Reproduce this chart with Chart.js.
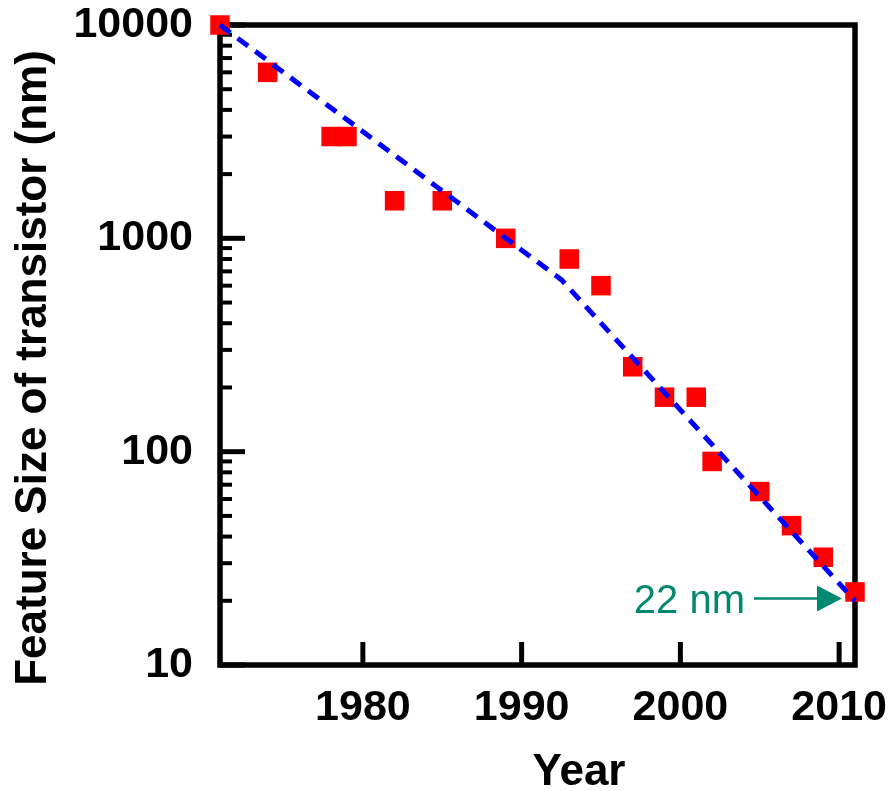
<!DOCTYPE html>
<html>
<head>
<meta charset="utf-8">
<script src="https://cdn.jsdelivr.net/npm/chart.js@4.4.0/dist/chart.umd.min.js"></script>
<style>
html, body { margin: 0; padding: 0; background: #fff; }
#wrap { width: 890px; height: 791px; position: relative; }
</style>
</head>
<body>
<div id="wrap"><canvas id="chart"></canvas></div>
<script>
// measured points
const years = [1971, 1974, 1978, 1979, 1982, 1985, 1989, 1993, 1995, 1997, 1999, 2001, 2002, 2005, 2007, 2009, 2011];
const featureSize = [10000, 6000, 3000, 3000, 1500, 1500, 1000, 800, 600, 250, 180, 180, 90, 65, 45, 32, 22];

// dashed trend line
const trendYears = [1971, 1992.5, 2011];
const trendSize = [10000, 640, 20];

const xTicks = [1980, 1990, 2000, 2010];
const yTicks = [10, 100, 1000, 10000];
const yMinor = [2, 3, 4, 5, 6, 7, 8, 9];

const xTitle = 'Year';
const yTitle = 'Feature Size of transistor (nm)';

const noteText = '22 nm';
const noteYear = 2011;
const noteSize = 20.5;

const FONT = '"Liberation Sans", Arial, Helvetica, sans-serif';

function noScalePadding(scale) {
    scale.paddingTop = 0;
    scale.paddingBottom = 0;
    scale.paddingLeft = 0;
    scale.paddingRight = 0;
}

const framePlugin = {
    id: 'frame',
    beforeDatasetsDraw(chart) {
        const { ctx, chartArea: a, scales } = chart;
        ctx.save();
        ctx.strokeStyle = '#000';
        ctx.lineCap = 'butt';

        // inward ticks on x
        ctx.lineWidth = 5;
        xTicks.forEach(v => {
            const x = scales.x.getPixelForValue(v);
            ctx.beginPath();
            ctx.moveTo(x, a.bottom);
            ctx.lineTo(x, a.bottom - 23);
            ctx.stroke();
        });

        // inward ticks on y (major + minor)
        yTicks.forEach((v, i) => {
            const y = scales.y.getPixelForValue(v);
            ctx.lineWidth = 5;
            ctx.beginPath();
            ctx.moveTo(a.left, y);
            ctx.lineTo(a.left + 25, y);
            ctx.stroke();
            if (i < yTicks.length - 1) {
                ctx.lineWidth = 4;
                yMinor.forEach(m => {
                    const ym = scales.y.getPixelForValue(v * m);
                    ctx.beginPath();
                    ctx.moveTo(a.left, ym);
                    ctx.lineTo(a.left + 12, ym);
                    ctx.stroke();
                });
            }
        });

        ctx.lineWidth = 5.5;
        ctx.strokeRect(a.left, a.top, a.right - a.left, a.bottom - a.top);
        ctx.restore();
    },
    afterDraw(chart) {
        const { ctx, scales } = chart;
        ctx.save();

        // axis titles
        ctx.fillStyle = '#000';
        ctx.font = 'bold 44px ' + FONT;
        ctx.textAlign = 'center';
        ctx.textBaseline = 'alphabetic';
        ctx.fillText(xTitle, 579, 785);

        ctx.save();
        ctx.translate(46, 368);
        ctx.rotate(-Math.PI / 2);
        ctx.fillText(yTitle, 0, 0);
        ctx.restore();

        // 22 nm annotation
        const tipX = scales.x.getPixelForValue(noteYear) - 13;
        const y = scales.y.getPixelForValue(noteSize);
        const color = '#00896E';
        ctx.strokeStyle = color;
        ctx.fillStyle = color;
        ctx.lineWidth = 2.5;
        ctx.beginPath();
        ctx.moveTo(tipX - 88, y);
        ctx.lineTo(tipX - 20, y);
        ctx.stroke();
        ctx.beginPath();
        ctx.moveTo(tipX, y);
        ctx.lineTo(tipX - 25, y - 13);
        ctx.lineTo(tipX - 25, y + 13);
        ctx.closePath();
        ctx.fill();

        ctx.font = '40px ' + FONT;
        ctx.textAlign = 'right';
        ctx.fillText(noteText, tipX - 97, y + 15);
        ctx.restore();
    }
};

new Chart(document.getElementById('chart'), {
    type: 'scatter',
    data: {
        datasets: [
            {
                type: 'line',
                data: trendYears.map((x, i) => ({ x: x, y: trendSize[i] })),
                borderColor: '#0000FF',
                borderWidth: 5,
                borderDash: [13, 9],
                pointRadius: 0,
                fill: false,
                tension: 0,
                clip: false,
                order: 0
            },
            {
                data: years.map((x, i) => ({ x: x, y: featureSize[i] })),
                pointStyle: 'rect',
                pointRadius: 13.8,
                pointHoverRadius: 13.8,
                pointBorderWidth: 0,
                backgroundColor: '#FF0000',
                borderColor: '#FF0000',
                clip: false,
                order: 1
            }
        ]
    },
    options: {
        responsive: true,
        maintainAspectRatio: false,
        animation: false,
        layout: { padding: { top: 25, right: 35, left: 0, bottom: 0 } },
        plugins: {
            legend: { display: false },
            tooltip: { enabled: false }
        },
        scales: {
            x: {
                type: 'linear',
                min: 1971,
                max: 2011,
                grid: { display: false },
                border: { display: false },
                afterBuildTicks: scale => { scale.ticks = xTicks.map(v => ({ value: v })); },
                afterFit: scale => { scale.height = 126; noScalePadding(scale); },
                ticks: {
                    autoSkip: false,
                    maxRotation: 0,
                    padding: 9,
                    color: '#000',
                    font: { family: FONT, size: 43, weight: 'bold' },
                    callback: v => String(v)
                }
            },
            y: {
                type: 'logarithmic',
                min: 10,
                max: 10000,
                grid: { display: false },
                border: { display: false },
                afterBuildTicks: scale => { scale.ticks = yTicks.map(v => ({ value: v })); },
                afterFit: scale => { scale.width = 220; noScalePadding(scale); },
                ticks: {
                    autoSkip: false,
                    padding: 19,
                    color: '#000',
                    font: { family: FONT, size: 43, weight: 'bold' },
                    callback: v => String(v)
                }
            }
        }
    },
    plugins: [framePlugin]
});
</script>
</body>
</html>
